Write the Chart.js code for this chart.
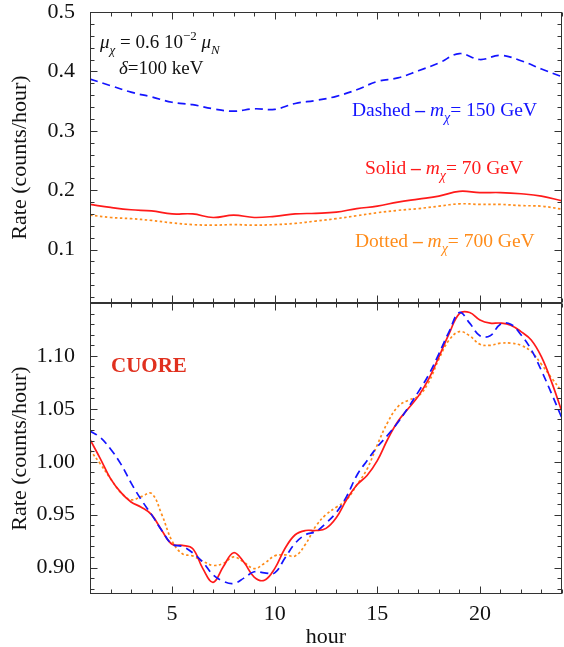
<!DOCTYPE html>
<html>
<head>
<meta charset="utf-8">
<script src="https://cdn.jsdelivr.net/npm/chart.js@4.4.1/dist/chart.umd.min.js"></script>
<style>
  html, body { margin: 0; padding: 0; background: #fff; }
  #wrap { width: 564px; height: 647px; }
</style>
</head>
<body>
<div id="wrap"><canvas id="rateChart" width="564" height="647"></canvas></div>
<script>
// upper panel: rates on the hour
const hours = [1, 2, 3, 4, 5, 6, 7, 8, 9, 10, 11, 12, 13, 14, 15, 16, 17, 18, 19, 20, 21, 22, 23, 24];
const topDashed = [0.387, 0.376, 0.365, 0.357, 0.348, 0.344, 0.337, 0.333, 0.337, 0.336, 0.346, 0.351,
                   0.358, 0.369, 0.383, 0.389, 0.401, 0.414, 0.430, 0.420, 0.427, 0.418, 0.404, 0.391];
const topSolid  = [0.176, 0.171, 0.167, 0.165, 0.160, 0.160, 0.154, 0.158, 0.154, 0.156, 0.160, 0.161,
                   0.163, 0.169, 0.173, 0.180, 0.185, 0.190, 0.198, 0.196, 0.196, 0.194, 0.190, 0.182];
const topDotted = [0.158, 0.154, 0.152, 0.149, 0.145, 0.142, 0.141, 0.142, 0.141, 0.142, 0.144, 0.148,
                   0.152, 0.157, 0.162, 0.166, 0.169, 0.173, 0.177, 0.176, 0.176, 0.174, 0.173, 0.168];

// lower panel: normalised rates every half hour
const halfHours = [1, 1.5, 2, 2.5, 3, 3.5, 4, 4.5, 5, 5.5, 6, 6.5, 7, 7.5, 8, 8.5, 9, 9.5, 10, 10.5, 11, 11.5,
                   12, 12.5, 13, 13.5, 14, 14.5, 15, 15.5, 16, 16.5, 17, 17.5, 18, 18.5, 19, 19.5, 20, 20.5,
                   21, 21.5, 22, 22.5, 23, 23.5, 24];
const botSolid  = [1.021, 1.003, 0.984, 0.971, 0.962, 0.957, 0.950, 0.935, 0.922, 0.921, 0.918, 0.899,
                   0.886, 0.901, 0.914, 0.905, 0.891, 0.888, 0.899, 0.918, 0.931, 0.935, 0.935, 0.937,
                   0.947, 0.964, 0.978, 0.987, 1.001, 1.021, 1.038, 1.050, 1.062, 1.078, 1.099, 1.121,
                   1.140, 1.141, 1.134, 1.131, 1.131, 1.129, 1.123, 1.115, 1.099, 1.075, 1.047];
const botDashed = [1.029, 1.023, 1.012, 0.998, 0.980, 0.964, 0.950, 0.935, 0.922, 0.920, 0.914, 0.905,
                   0.893, 0.887, 0.885, 0.890, 0.896, 0.895, 0.895, 0.909, 0.923, 0.931, 0.934, 0.942,
                   0.952, 0.967, 0.987, 1.001, 1.014, 1.025, 1.037, 1.051, 1.066, 1.082, 1.102, 1.123,
                   1.141, 1.131, 1.119, 1.119, 1.130, 1.130, 1.120, 1.106, 1.086, 1.064, 1.041];
const botDotted = [1.011, 0.998, 0.984, 0.971, 0.964, 0.967, 0.970, 0.950, 0.925, 0.913, 0.911, 0.906,
                   0.902, 0.904, 0.910, 0.905, 0.899, 0.904, 0.911, 0.912, 0.911, 0.922, 0.939, 0.950,
                   0.957, 0.964, 0.978, 0.993, 1.016, 1.037, 1.052, 1.058, 1.062, 1.075, 1.097, 1.115,
                   1.123, 1.119, 1.111, 1.110, 1.112, 1.112, 1.110, 1.104, 1.092, 1.079, 1.066];

// tick labels
const hourTicks = [5, 10, 15, 20];
const topTicks = [0.1, 0.2, 0.3, 0.4, 0.5];
const botTicks = [0.90, 0.95, 1.00, 1.05, 1.10];

const BLUE = "#1414ff", RED = "#ff1a1a", ORANGE = "#ff8c1a";
const SERIF = '"Liberation Serif", "DejaVu Serif", serif';

const pts = (xs, ys) => xs.map((x, i) => ({ x: x, y: ys[i] }));

function line(ds, color, dash, axis) {
  return {
    data: ds, yAxisID: axis, borderColor: color, borderWidth: 1.7,
    borderDash: dash, pointRadius: 0, tension: 0.4, fill: false
  };
}

// draws text made of pieces: flags i = italic, b = bold, _ = subscript, ^ = superscript
function rich(ctx, x, y, parts, size) {
  let cx = x;
  for (const [txt, f] of parts) {
    const small = f.includes("_") || f.includes("^");
    const fs = small ? Math.round(size * 0.7) : size;
    ctx.font = (f.includes("i") ? "italic " : "") + (f.includes("b") ? "bold " : "") + fs + "px " + SERIF;
    const dy = f.includes("_") ? size * 0.3 : f.includes("^") ? -size * 0.4 : 0;
    ctx.fillText(txt, cx, y + dy);
    cx += ctx.measureText(txt).width;
  }
}

// frame with inward ticks, Mathematica style
const framePlugin = {
  id: "frame",
  afterDatasetsDraw(chart) {
    const ctx = chart.ctx;
    const xs = chart.scales.x;
    ctx.save();
    ctx.strokeStyle = "#333";
    ctx.lineWidth = 1;
    const seg = (x1, y1, x2, y2) => { ctx.beginPath(); ctx.moveTo(x1, y1); ctx.lineTo(x2, y2); ctx.stroke(); };
    const l = Math.round(xs.left) + 0.5, r = Math.round(xs.right) - 0.5;
    for (const id of ["yTop", "yBot"]) {
      const ys = chart.scales[id];
      const t = Math.round(ys.top) + 0.5, b = Math.round(ys.bottom) - 0.5;
      ctx.strokeRect(l, t, r - l, b - t);
      for (let h = 1; h <= 24; h++) {
        const px = Math.round(xs.getPixelForValue(h)) + 0.5;
        const len = h % 5 === 0 ? 7 : 4;
        seg(px, t, px, t + len);
        seg(px, b, px, b - len);
      }
      const ticks = id === "yTop"
        ? Array.from({ length: 25 }, (_, k) => [(k + 1) * 0.02, (k + 1) % 5 === 0])
        : Array.from({ length: 27 }, (_, k) => [(k + 88) / 100, (k + 88) % 5 === 0]);
      for (const [v, major] of ticks) {
        if (v < ys.min || v > ys.max) continue;
        const py = Math.round(ys.getPixelForValue(v)) + 0.5;
        const len = major ? 7 : 4;
        seg(l, py, l + len, py);
        seg(r, py, r - len, py);
      }
    }
    ctx.restore();
  },
  afterDraw(chart) {
    const ctx = chart.ctx;
    ctx.save();
    ctx.textBaseline = "alphabetic";
    ctx.fillStyle = "#111";
    rich(ctx, 100, 48, [["μ", "i"], ["χ", "i_"], [" = 0.6 10", ""], ["−2", "^"], [" ", ""], ["μ", "i"], ["N", "i_"]], 19);
    rich(ctx, 119, 74, [["δ", "i"], ["=100 keV", ""]], 19);
    ctx.fillStyle = BLUE;
    rich(ctx, 352, 116, [["Dashed ", ""], ["–", "b"], [" ", ""], ["m", "i"], ["χ", "i_"], ["= 150 GeV", ""]], 19.5);
    ctx.fillStyle = RED;
    rich(ctx, 365, 174, [["Solid ", ""], ["–", "b"], [" ", ""], ["m", "i"], ["χ", "i_"], ["= 70 GeV", ""]], 19.5);
    ctx.fillStyle = ORANGE;
    rich(ctx, 355, 247, [["Dotted ", ""], ["–", "b"], [" ", ""], ["m", "i"], ["χ", "i_"], ["= 700 GeV", ""]], 19.5);
    ctx.fillStyle = "#e0301e";
    rich(ctx, 111, 372, [["CUORE", "b"]], 21);
    ctx.restore();
  }
};

const tickFont = { family: SERIF, size: 22, lineHeight: 1 };

function fixY(s) {
  s.width = 90;
  s.paddingTop = 0;
  s.paddingBottom = 0;
}

new Chart(document.getElementById("rateChart"), {
  type: "line",
  data: {
    datasets: [
      line(pts(hours, topDashed), BLUE, [8, 5], "yTop"),
      line(pts(hours, topSolid), RED, [], "yTop"),
      line(pts(hours, topDotted), ORANGE, [2.5, 2.5], "yTop"),
      line(pts(halfHours, botDashed), BLUE, [8, 5], "yBot"),
      line(pts(halfHours, botSolid), RED, [], "yBot"),
      line(pts(halfHours, botDotted), ORANGE, [2.5, 2.5], "yBot")
    ]
  },
  options: {
    responsive: false,
    animation: false,
    devicePixelRatio: 1,
    layout: { padding: { top: 12, right: 2, left: 0, bottom: 0 } },
    plugins: { legend: { display: false }, tooltip: { enabled: false } },
    scales: {
      x: {
        type: "linear", min: 1, max: 24,
        grid: { display: false }, border: { display: false },
        afterBuildTicks: s => { s.ticks = hourTicks.map(v => ({ value: v })); },
        afterFit: s => { s.height = 53; s.paddingLeft = 0; s.paddingRight = 0; },
        ticks: { color: "#111", font: tickFont, padding: 1, maxRotation: 0 },
        title: { display: true, text: "hour", color: "#111", font: tickFont, padding: { top: 0, bottom: -1 } }
      },
      // lower panel first: left boxes are stacked in reverse order
      yBot: {
        type: "linear", position: "left", stack: "rate", stackWeight: 1,
        min: 0.875, max: 1.15,
        grid: { display: false }, border: { display: false },
        afterBuildTicks: s => { s.ticks = botTicks.map(v => ({ value: v })); },
        afterFit: fixY,
        ticks: { color: "#111", font: tickFont, padding: 7, callback: v => v.toFixed(2) },
        title: { display: true, text: "Rate (counts/hour)", color: "#111", font: tickFont, padding: { top: 9, bottom: 0 } }
      },
      yTop: {
        type: "linear", position: "left", stack: "rate", stackWeight: 1,
        min: 0.01, max: 0.5,
        grid: { display: false }, border: { display: false },
        afterBuildTicks: s => { s.ticks = topTicks.map(v => ({ value: v })); },
        afterFit: fixY,
        ticks: { color: "#111", font: tickFont, padding: 7, callback: v => v.toFixed(1) },
        title: { display: true, text: "Rate (counts/hour)", color: "#111", font: tickFont, padding: { top: 9, bottom: 0 } }
      }
    }
  },
  plugins: [framePlugin]
});
</script>
</body>
</html>
